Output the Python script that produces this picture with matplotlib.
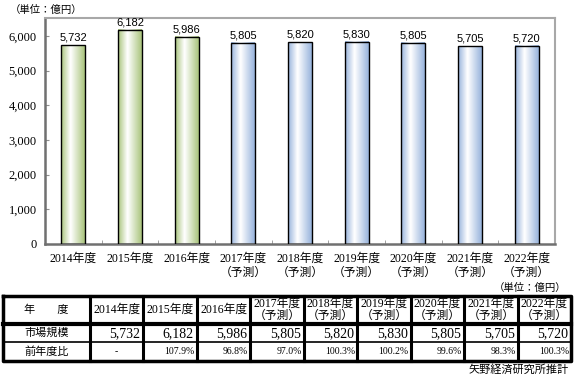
import numpy as np
import matplotlib.pyplot as plt
from matplotlib.colors import LinearSegmentedColormap

plt.rcParams['font.family'] = ['Noto Sans CJK JP', 'DejaVu Sans']

years = ['2014年度', '2015年度', '2016年度', '2017年度', '2018年度',
         '2019年度', '2020年度', '2021年度', '2022年度']
forecast = [False, False, False, True, True, True, True, True, True]
market = [5732, 6182, 5986, 5805, 5820, 5830, 5805, 5705, 5720]
yoy = ['-', '107.9%', '96.8%', '97.0%', '100.3%', '100.2%', '99.6%', '98.3%', '100.3%']

serif = ['Liberation Serif', 'Noto Sans CJK JP']
sans = ['Liberation Sans', 'Noto Sans CJK JP']

green = LinearSegmentedColormap.from_list('g', ['#a9c47c', '#ffffff', '#a9c47c'])
blue = LinearSegmentedColormap.from_list('b', ['#97b3dc', '#ffffff', '#97b3dc'])
grad = np.concatenate([np.linspace(0, 0.5, 40), np.linspace(0.5, 1, 60)])[None, :]

fig = plt.figure(figsize=(5.76, 3.79), dpi=100)
ax = fig.add_axes([45/576, 1-244/379, 510/576, 226/379])

x = np.arange(len(years))
w = 0.42
bars = ax.bar(x, market, width=w, facecolor='none', edgecolor='black', linewidth=1, zorder=3)
for i, b in enumerate(bars):
    cm = blue if forecast[i] else green
    ax.imshow(grad, extent=[b.get_x(), b.get_x() + w, 0, b.get_height()],
              aspect='auto', cmap=cm, vmin=0, vmax=1, zorder=2)
    ax.text(i, market[i] + 70, f'{market[i]:,}', ha='center', va='bottom',
            fontsize=8, family=sans)

ax.set_xlim(-0.5, len(years) - 0.5)
ax.set_ylim(0, 6520)
ax.set_yticks(range(0, 7000, 1000))
ax.set_yticklabels([f'{v:,}' for v in range(0, 7000, 1000)], family=serif, fontsize=9)
ax.set_xticks(x)
ax.set_xticklabels([y + '\n（予測）' if f else y for y, f in zip(years, forecast)],
                   family=serif, fontsize=8.5, linespacing=1.25, va='top')
ax.set_xticks(np.arange(0.5, len(years) - 1, 1), minor=True)
ax.tick_params(axis='x', which='major', length=0, pad=6)
ax.tick_params(axis='x', which='minor', length=3, direction='in', color='#909090')
ax.tick_params(axis='y', length=3, direction='in', color='#909090', pad=6)
for s in ['left', 'bottom']:
    ax.spines[s].set_color('#707070')
    ax.spines[s].set_linewidth(1.8)
for s in ['top', 'right']:
    ax.spines[s].set_color('#a8a8a8')
    ax.spines[s].set_linewidth(1.5)

fig.text(10/576, 1-10/379, '（単位：億円）', fontsize=7.5, va='center', ha='left', family=serif)

# table
tax = fig.add_axes([0, 0, 1, 1])
tax.set_xlim(0, 576)
tax.set_ylim(379, 0)
tax.axis('off')
cols = np.concatenate([[3], np.linspace(90, 571, len(years) + 1)])
rows = [296, 324, 342, 361]
tax.plot([cols[0], cols[-1], cols[-1], cols[0], cols[0]],
         [rows[0], rows[0], rows[-1], rows[-1], rows[0]], color='black', lw=2.5)
for c in cols[1:-1]:
    tax.plot([c, c], [rows[0], rows[-1]], color='black', lw=2.2)
tax.plot([cols[0], cols[-1]], [rows[1], rows[1]], color='black', lw=3)
tax.plot([cols[0], cols[-1]], [rows[2], rows[2]], color='black', lw=1.2)

tax.text((cols[0] + cols[1]) / 2, (rows[0] + rows[1]) / 2, '年　　度',
         ha='center', va='center', fontsize=8, family=serif)
tax.text((cols[0] + cols[1]) / 2, (rows[1] + rows[2]) / 2, '市場規模',
         ha='center', va='center', fontsize=8, family=serif)
tax.text((cols[0] + cols[1]) / 2, (rows[2] + rows[3]) / 2, '前年度比',
         ha='center', va='center', fontsize=8, family=serif)
for i in range(len(years)):
    cx = (cols[i + 1] + cols[i + 2]) / 2
    if forecast[i]:
        tax.text(cx, (rows[0] + rows[1]) / 2, years[i] + '\n（予測）', ha='center',
                 va='center', fontsize=8.5, family=serif, linespacing=1.0)
    else:
        tax.text(cx, (rows[0] + rows[1]) / 2, years[i], ha='center',
                 va='center', fontsize=8.5, family=serif)
    tax.text(cols[i + 2] - 3, (rows[1] + rows[2]) / 2 + 1, f'{market[i]:,}',
             ha='right', va='center', fontsize=10, family=serif)
    if yoy[i] == '-':
        tax.text(cx, (rows[2] + rows[3]) / 2, yoy[i], ha='center', va='center',
                 fontsize=7, family=serif)
    else:
        tax.text(cols[i + 2] - 2, (rows[2] + rows[3]) / 2, yoy[i], ha='right',
                 va='center', fontsize=7, family=serif)

tax.text(566, 288, '（単位：億円）', ha='right', va='center', fontsize=7.5, family=serif)
tax.text(569, 370, '矢野経済研究所推計', ha='right', va='center', fontsize=8, family=serif)

fig.savefig('out.png', dpi=100)
